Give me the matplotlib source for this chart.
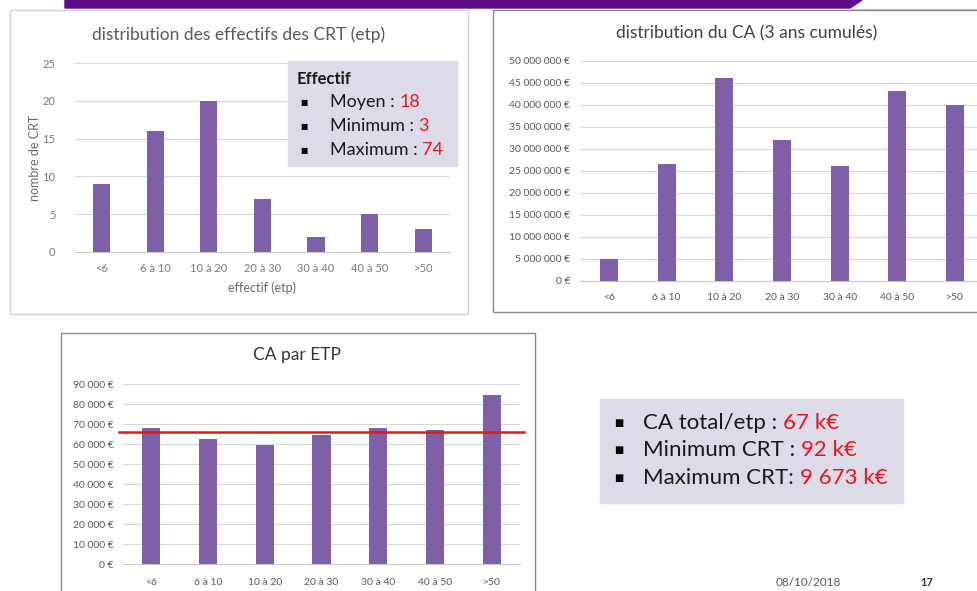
import numpy as np
import matplotlib
matplotlib.use("Agg")
import matplotlib.pyplot as plt
from matplotlib.patches import Rectangle, Polygon
from matplotlib.ticker import FuncFormatter

plt.rcParams['font.family'] = ['Lato', 'DejaVu Sans']

# data
categories = ["<6", "6 à 10", "10 à 20", "20 à 30", "30 à 40", "40 à 50", ">50"]
nb_crt = [9, 16, 20, 7, 2, 5, 3]
ca_cumule = [5.1e6, 26.6e6, 46.2e6, 32.0e6, 26.1e6, 43.2e6, 40.0e6]
ca_par_etp = [68000, 62700, 59500, 64300, 68000, 67000, 84700]
ca_moyen_etp = 65800

effectif_stats = [("Moyen : ", "18"), ("Minimum : ", "3"), ("Maximum : ", "74")]
ca_stats = [("CA total/etp : ", "67 k€"), ("Minimum CRT : ", "92 k€"), ("Maximum CRT: ", "9 673 k€")]

W, H = 978, 591
BAR = "#7d60a7"
GRID = "#d9d9d9"
TXT = "#595959"
RED = "#e8141e"

fig = plt.figure(figsize=(W / 100, H / 100), dpi=100)
fig.patch.set_facecolor("white")


def px_axes(x0, y0, x1, y1):
    # pixel box (top-left origin) -> figure axes
    return fig.add_axes([x0 / W, 1 - y1 / H, (x1 - x0) / W, (y1 - y0) / H])


def euro(v, pos):
    return "{:,.0f} €".format(v).replace(",", " ")


def bar_chart(ax, values, width, ymax, step, fmt, fs, ypad, xpad):
    x = np.arange(len(categories))
    ax.bar(x, values, width=width, color=BAR, zorder=3)
    ax.set_xlim(-0.5, len(categories) - 0.5)
    ax.set_ylim(0, ymax)
    ax.set_yticks(np.arange(0, ymax + step / 2, step))
    ax.set_xticks(x)
    ax.set_xticklabels(categories)
    if fmt is not None:
        ax.yaxis.set_major_formatter(FuncFormatter(fmt))
    ax.grid(axis="y", color=GRID, lw=0.8, zorder=0)
    for s in ["top", "right", "left"]:
        ax.spines[s].set_visible(False)
    ax.spines["bottom"].set_color("#c8c8c8")
    ax.tick_params(length=0, labelsize=fs, labelcolor=TXT)
    ax.tick_params(axis="y", pad=ypad)
    ax.tick_params(axis="x", pad=xpad)
    ax.set_facecolor("none")


# chart 1 : effectifs
ax1 = px_axes(75, 63, 450, 252)
bar_chart(ax1, nb_crt, 0.32, 25, 5, None, 8, 14, 8)
ax1.tick_params(labelcolor="#7a7a7a")
ax1.set_ylabel("nombre de CRT", fontsize=9, color="#6a6a6a", labelpad=1)
ax1.set_xlabel("effectif (etp)", fontsize=9, color="#6a6a6a", labelpad=5)

# chart 2 : CA cumulé
ax2 = px_axes(580, 61, 984, 281)
bar_chart(ax2, ca_cumule, 0.31, 50e6, 5e6, euro, 7.5, 7, 9)

# chart 3 : CA par ETP
ax3 = px_axes(123, 384, 520, 564)
bar_chart(ax3, ca_par_etp, 0.32, 90000, 10000, euro, 7.5, 7, 10)
ax3.axhline(ca_moyen_etp, color=RED, lw=1.8, zorder=4, xmin=-0.01, xmax=1.01, clip_on=False)

# overlay in pixel coords for frames, banner and text boxes
ov = fig.add_axes([0, 0, 1, 1], zorder=10)
ov.set_xlim(0, W)
ov.set_ylim(H, 0)
ov.axis("off")
ov.patch.set_alpha(0)

ov.add_patch(Polygon([(65, 0), (862, 0), (850, 8), (65, 8)], closed=True, color="#5e0b8b"))
ov.plot([850, W], [9, 9], color="#bbbbbb", lw=0.8)

ov.add_patch(Rectangle((10, 10), 458, 304, fill=False, ec="#d4d4d4", lw=1))
ov.add_patch(Rectangle((493, 10), 500, 302, fill=False, ec="#8a8a8a", lw=1))
ov.add_patch(Rectangle((61, 333), 474, 280, fill=False, ec="#8a8a8a", lw=1))

ov.text(239, 35, "distribution des effectifs des CRT (etp)", fontsize=12.5, color=TXT, ha="center", va="center")
ov.text(747, 33, "distribution du CA (3 ans cumulés)", fontsize=12.5, color="#404040", ha="center", va="center")
ov.text(297, 355, "CA par ETP", fontsize=12.5, color="#333333", ha="center", va="center")

# effectif box
ov.add_patch(Rectangle((288, 61), 169, 105, color="#dddbe7", zorder=2))
ov.text(297, 79, "Effectif", fontsize=12, fontweight="bold", color="#1a1a1a", va="center", zorder=3)
for i, (lab, val) in enumerate(effectif_stats):
    y = 102 + i * 24
    ov.text(300, y, "■", fontsize=5.5, color="black", va="center", zorder=3, family="DejaVu Sans")
    t = ov.text(330, y, lab, fontsize=13, color="#1a1a1a", va="center", zorder=3)
    ov.annotate(val, xy=(1, 0.5), xycoords=t, va="center", ha="left", fontsize=13, color=RED, zorder=3)

# CA box
ov.add_patch(Rectangle((600, 399), 303, 104, color="#dddbe7", zorder=2))
for i, (lab, val) in enumerate(ca_stats):
    y = 423 + i * 27.5
    ov.text(614, y, "■", fontsize=7, color="black", va="center", zorder=3, family="DejaVu Sans")
    t = ov.text(643, y, lab, fontsize=16, color="#1a1a1a", va="center", zorder=3)
    ov.annotate(val, xy=(1, 0.5), xycoords=t, va="center", ha="left", fontsize=16, color=RED, zorder=3)

ov.text(808, 583, "08/10/2018", fontsize=8.5, color=TXT, ha="center", va="center")
ov.text(927, 583, "17", fontsize=8, color="#333333", fontweight="bold", ha="center", va="center")

fig.savefig("out.png", dpi=100)
